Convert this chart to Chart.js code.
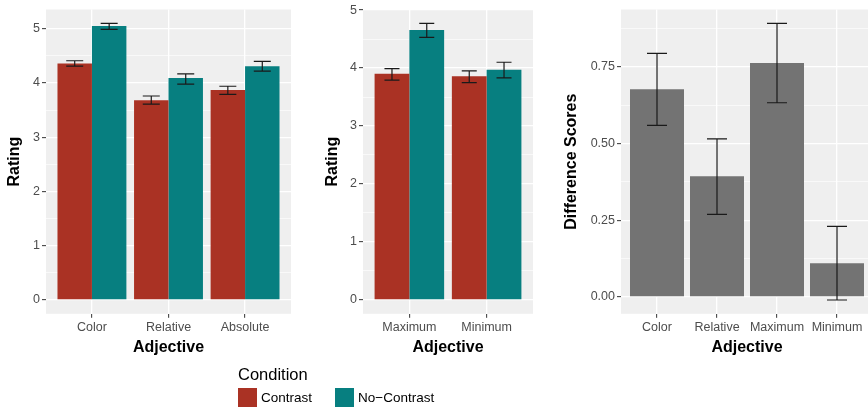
<!DOCTYPE html>
<html>
<head>
<meta charset="utf-8">
<script src="https://cdn.jsdelivr.net/npm/chart.js@4"></script>
<style>
  body { margin: 0; background: #fff; width: 868px; height: 408px; position: relative; overflow: hidden;
         font-family: "Liberation Sans", Arial, sans-serif; }
  canvas { position: absolute; top: 0; }
  #legend { position: absolute; left: 238px; top: 364px; color: #000; }
  #legend .title { font-size: 16.5px; line-height: 20px; }
  #legend .items { display: flex; align-items: center; margin-top: 4px; }
  #legend .key { width: 19px; height: 19px; display: inline-block; margin-right: 4px; }
  #legend .lab { font-size: 13.5px; margin-right: 23px; }
</style>
</head>
<body>
<canvas id="c1" width="296" height="365" style="left:0px"></canvas>
<canvas id="c2" width="228" height="365" style="left:310px"></canvas>
<canvas id="c3" width="323" height="365" style="left:550px"></canvas>
<div id="legend"></div>

<script>
// ---- data ----
const conditions = ["Contrast", "No\u2212Contrast"];
const conditionColors = ["#AA3224", "#077F80"];

// panel 1: gradable adjectives
const adjectives1 = ["Color", "Relative", "Absolute"];
const contrast1   = [4.36, 3.68, 3.87];
const contrastLo1 = [4.31, 3.61, 3.79];
const contrastHi1 = [4.41, 3.76, 3.94];
const noContrast1   = [5.05, 4.09, 4.31];
const noContrastLo1 = [4.99, 3.98, 4.22];
const noContrastHi1 = [5.10, 4.17, 4.40];

// panel 2: absolute adjective types
const adjectives2 = ["Maximum", "Minimum"];
const contrast2   = [3.90, 3.86];
const contrastLo2 = [3.79, 3.75];
const contrastHi2 = [3.99, 3.95];
const noContrast2   = [4.655, 3.97];
const noContrastLo2 = [4.53, 3.83];
const noContrastHi2 = [4.77, 4.10];

// panel 3: difference scores
const adjectives3 = ["Color", "Relative", "Maximum", "Minimum"];
const diffScores = [0.677, 0.393, 0.763, 0.110];
const diffLo     = [0.559, 0.269, 0.633, -0.010];
const diffHi     = [0.794, 0.515, 0.892, 0.230];

const ratingTicks = [0, 1, 2, 3, 4, 5];
const diffTicks = [0, 0.25, 0.5, 0.75];

const FONT = "'Liberation Sans', Arial, sans-serif";

// panel background
const panelBg = {
  id: "panelBg",
  beforeDraw(chart) {
    const a = chart.chartArea, ctx = chart.ctx;
    ctx.save();
    ctx.fillStyle = "#EFEFEF";
    ctx.fillRect(a.left, a.top, a.right - a.left, a.bottom - a.top);
    ctx.restore();
  }
};

// error bars from lo/hi arrays stored on each dataset
const errorBars = {
  id: "errorBars",
  afterDatasetsDraw(chart, args, opts) {
    const ctx = chart.ctx, y = chart.scales.y;
    chart.data.datasets.forEach((ds, di) => {
      if (!ds.errLo) return;
      chart.getDatasetMeta(di).data.forEach((bar, i) => {
        const top = y.getPixelForValue(ds.errHi[i]);
        const bot = y.getPixelForValue(ds.errLo[i]);
        const half = opts.cap / 2;
        ctx.save();
        ctx.strokeStyle = "#1a1a1a";
        ctx.lineWidth = 1.2;
        ctx.beginPath();
        ctx.moveTo(bar.x, top); ctx.lineTo(bar.x, bot);
        ctx.moveTo(bar.x - half, top); ctx.lineTo(bar.x + half, top);
        ctx.moveTo(bar.x - half, bot); ctx.lineTo(bar.x + half, bot);
        ctx.stroke();
        ctx.restore();
      });
    });
  }
};

function points(vals) {
  return vals.map((v, i) => ({ x: i, y: v }));
}

function makeChart(id, cfg) {
  const majors = new Set(cfg.yTicks);
  const step = cfg.yTicks[1] - cfg.yTicks[0];
  const allTicks = [];
  cfg.yTicks.forEach(v => { allTicks.push(v); allTicks.push(v + step / 2); });
  const n = cfg.labels.length;

  return new Chart(document.getElementById(id), {
    type: "bar",
    data: { datasets: cfg.datasets },
    plugins: [panelBg, errorBars],
    options: {
      responsive: false,
      animation: false,
      layout: { padding: { top: 9, right: cfg.padRight, bottom: 0, left: 0 } },
      datasets: { bar: { categoryPercentage: 0.9, barPercentage: 1 } },
      plugins: {
        legend: { display: false },
        tooltip: { enabled: false },
        errorBars: { cap: cfg.cap }
      },
      scales: {
        x: {
          type: "linear",
          min: -0.6,
          max: n - 0.4,
          offset: false,
          afterBuildTicks: s => { s.ticks = cfg.labels.map((l, i) => ({ value: i })); },
          afterFit: s => { s.height = 51.2; },
          border: { display: false },
          grid: { offset: false, color: "#FFFFFF", lineWidth: 1.3, tickColor: "#333333", tickLength: 4, tickWidth: 1 },
          ticks: {
            autoSkip: false, maxRotation: 0, padding: 2,
            color: "#4D4D4D", font: { family: FONT, size: 12.5 },
            callback: v => cfg.labels[v]
          },
          title: {
            display: true, text: "Adjective", color: "#000",
            font: { family: FONT, size: 16, weight: "bold" },
            padding: { top: 0, bottom: 7.4 }
          }
        },
        y: {
          min: cfg.yMin,
          max: cfg.yMax,
          afterBuildTicks: s => { s.ticks = allTicks.filter(v => v <= cfg.yMax).map(v => ({ value: v })); },
          afterFit: s => { s.width = cfg.yWidth; },
          border: { display: false },
          grid: {
            color: "#FFFFFF",
            lineWidth: c => majors.has(c.tick.value) ? 1.3 : 0.6,
            tickColor: c => majors.has(c.tick.value) ? "#333333" : "rgba(0,0,0,0)",
            tickLength: 4, tickWidth: 1
          },
          ticks: {
            padding: 2, color: "#4D4D4D", font: { family: FONT, size: 12.5 },
            callback: v => majors.has(v) ? cfg.yFormat(v) : ""
          },
          title: {
            display: true, text: cfg.yTitle, color: "#000",
            font: { family: FONT, size: 16, weight: "bold" },
            padding: { top: cfg.yTitlePad, bottom: 0 }
          }
        }
      }
    }
  });
}

function conditionSets(c, cLo, cHi, nc, ncLo, ncHi) {
  return [
    { label: conditions[0], data: points(c), errLo: cLo, errHi: cHi, backgroundColor: conditionColors[0] },
    { label: conditions[1], data: points(nc), errLo: ncLo, errHi: ncHi, backgroundColor: conditionColors[1] }
  ];
}

makeChart("c1", {
  labels: adjectives1,
  datasets: conditionSets(contrast1, contrastLo1, contrastHi1, noContrast1, noContrastLo1, noContrastHi1),
  yTicks: ratingTicks, yMin: -0.255, yMax: 5.355, yFormat: v => String(v),
  yTitle: "Rating", yWidth: 46, yTitlePad: 5.4, padRight: 5, cap: 17
});

makeChart("c2", {
  labels: adjectives2,
  datasets: conditionSets(contrast2, contrastLo2, contrastHi2, noContrast2, noContrastLo2, noContrastHi2),
  yTicks: ratingTicks, yMin: -0.24, yMax: 5.01, yFormat: v => String(v),
  yTitle: "Rating", yWidth: 53, yTitlePad: 13.4, padRight: 5, cap: 15
});

makeChart("c3", {
  labels: adjectives3,
  datasets: [{ label: "Difference", data: points(diffScores), errLo: diffLo, errHi: diffHi, backgroundColor: "#737373" }],
  yTicks: diffTicks, yMin: -0.055, yMax: 0.937, yFormat: v => v.toFixed(2),
  yTitle: "Difference Scores", yWidth: 71, yTitlePad: 12, padRight: 0, cap: 20
});

// legend
const legend = document.getElementById("legend");
legend.innerHTML = '<div class="title">Condition</div><div class="items">' +
  conditions.map((c, i) =>
    `<span class="key" style="background:${conditionColors[i]}"></span><span class="lab">${c}</span>`
  ).join("") + "</div>";
</script>
</body>
</html>
